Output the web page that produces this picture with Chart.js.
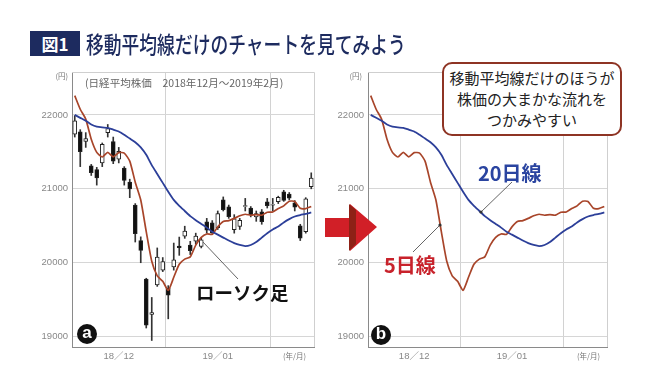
<!DOCTYPE html>
<html><head><meta charset="utf-8">
<script src="https://cdn.jsdelivr.net/npm/chart.js@4.4.1/dist/chart.umd.min.js"></script>
<style>
html,body{margin:0;padding:0;background:#fff;}
body{width:647px;height:384px;position:relative;overflow:hidden;font-family:"Noto Sans CJK JP","Noto Sans",sans-serif;}
.abs{position:absolute;white-space:nowrap;}
#w1{position:absolute;left:20px;top:60px;width:300px;height:320px;}
#w2{position:absolute;left:320px;top:60px;width:295px;height:320px;}
.fit{display:inline-block;transform-origin:0 50%;}
</style></head><body>
<div id="w1"><canvas id="c1" width="300" height="320"></canvas></div>
<div id="w2"><canvas id="c2" width="295" height="320"></canvas></div>

<svg class="abs" style="left:0;top:0" width="647" height="384">
  <line x1="203" y1="242" x2="238" y2="279" stroke="#555" stroke-width="0.9"/>
  <line x1="512" y1="182" x2="481" y2="212" stroke="#555" stroke-width="0.9"/>
  <circle cx="481" cy="212" r="1.6" fill="#333"/>
  <line x1="413" y1="252" x2="440" y2="225" stroke="#555" stroke-width="0.9"/>
  <circle cx="440" cy="225" r="1.6" fill="#333"/>
  <polygon points="325,218 350,218 350,204 377,227 350,251 350,237 325,237" fill="#d11f27"/>
  <polygon points="349,204 356,210 356,244 349,251" fill="#8e2116"/>
  <circle cx="87" cy="334" r="10" fill="#111"/>
  <circle cx="381" cy="335" r="10" fill="#111"/>
</svg>

<div class="abs" style="left:30px;top:31px;width:50px;height:25px;background:#1d2b5f;color:#fff;font-weight:bold;font-size:17px;line-height:25px;text-align:center;">図1</div>
<div class="abs" id="title" style="left:86px;top:28px;height:30px;line-height:30px;font-size:23px;color:#1d2b5f;font-weight:500;"><span class="fit" id="titleSpan">移動平均線だけのチャートを見てみよう</span></div>
<div class="abs" style="left:72px;top:76px;font-size:10.5px;color:#666;line-height:14px;"><span class="fit" id="subSpan">(日経平均株価　2018年12月～2019年2月)</span></div>
<div class="abs" style="left:50px;top:70px;width:18px;text-align:right;font-size:7.5px;color:#777;">(円)</div>
<div class="abs" style="left:344px;top:70px;width:18px;text-align:right;font-size:7.5px;color:#777;">(円)</div>
<div class="abs" style="left:283px;top:350px;font-size:7.5px;color:#777;">(年/月)</div>
<div class="abs" style="left:577px;top:350px;font-size:7.5px;color:#777;">(年/月)</div>
<div class="abs" style="left:77px;top:322px;width:20px;text-align:center;color:#fff;font-weight:bold;font-size:17px;line-height:22px;font-family:'Liberation Sans',sans-serif;">a</div>
<div class="abs" style="left:371px;top:323px;width:20px;text-align:center;color:#fff;font-weight:bold;font-size:17px;line-height:22px;font-family:'Liberation Sans',sans-serif;">b</div>
<div class="abs" style="left:196px;top:280px;font-size:18.5px;font-weight:bold;color:#111;line-height:24px;">ローソク足</div>
<div class="abs" style="left:478px;top:160px;font-size:20px;font-weight:bold;color:#2a44a0;line-height:26px;">20日線</div>
<div class="abs" style="left:384px;top:252px;font-size:20px;font-weight:bold;color:#c8222b;line-height:26px;">5日線</div>
<div class="abs" style="left:442px;top:62px;width:176px;height:67px;border:2px solid #8e3424;border-radius:10px;background:#fff;text-align:center;font-size:15px;line-height:21px;color:#222;padding-top:3px;">移動平均線だけのほうが<br>株価の大まかな流れを<br>つかみやすい</div>

<script>
// ---- data ----
const dates = [
 '2018-12-05','2018-12-06','2018-12-07','2018-12-10','2018-12-11','2018-12-12','2018-12-13','2018-12-14','2018-12-17','2018-12-18','2018-12-19','2018-12-20','2018-12-21','2018-12-25','2018-12-26','2018-12-27','2018-12-28',
 '2019-01-04','2019-01-07','2019-01-08','2019-01-09','2019-01-10','2019-01-11','2019-01-15','2019-01-16','2019-01-17','2019-01-18','2019-01-21','2019-01-22','2019-01-23','2019-01-24','2019-01-25','2019-01-28','2019-01-29','2019-01-30','2019-01-31',
 '2019-02-01','2019-02-04','2019-02-05','2019-02-06','2019-02-07','2019-02-08','2019-02-12','2019-02-13'];
const opens  = [21740,21770,21640,21310,21260,21350,21760,21640,21400,21280,21090,20780,20300,19780,19302,19700,19900,19655,19944,20224,20360,20240,20290,20220,20554,20540,20473,20850,20757,20446,20490,20760,20740,20620,20690,20825,20780,20825,20960,20930,20810,20500,20420,21030];
const highs  = [21990,21800,21760,21330,21290,21620,21870,21700,21560,21300,21130,20800,20350,19790,19530,20200,20070,19690,20266,20347,20494,20290,20400,20340,20600,20570,20700,20890,20780,20650,20600,20870,20760,20700,20720,20870,20870,20900,20980,20950,20840,20520,20880,21216];
const lows   = [21700,21300,21560,21180,21050,21300,21700,21340,21350,21050,20880,20280,20000,19117,18948,19680,19880,19241,19900,20100,20330,20110,20250,20200,20400,20380,20450,20700,20600,20400,20450,20700,20620,20560,20520,20740,20700,20800,20830,20850,20700,20300,20400,21000];
const closes = [21919,21501,21678,21219,21148,21602,21816,21374,21506,21115,21000,20392,20166,19155,19327,20077,20014,19561,20038,20204,20427,20163,20359,20310,20442,20402,20666,20719,20622,20593,20574,20773,20649,20664,20556,20773,20788,20883,20844,20874,20751,20333,20864,21144];
const ma5  = [22260,22076,21942,21671,21493,21430,21493,21432,21489,21483,21374,21089,20848,20420,20020,19823,19748,19627,19803,19979,20049,20079,20238,20342,20389,20384,20485,20557,20570,20600,20635,20656,20642,20651,20643,20683,20686,20733,20769,20832,20828,20737,20733,20760];
const ma20 = [22000,21960,21920,21870,21840,21830,21825,21800,21775,21730,21680,21630,21560,21460,21320,21200,21080,20960,20850,20770,20700,20630,20575,20525,20475,20420,20380,20340,20300,20265,20240,20225,20240,20280,20340,20400,20450,20490,20545,20590,20625,20645,20660,20680];
const yTicks = [19000, 20000, 21000, 22000];
const monthKeys   = ['2018-12', '2019-01'];
const monthLabels = ['18／12', '19／01'];
const yMin = 18860, yMax = 22580;

// derived: month label positions (middle trading day) and month boundaries
const labelAt = {};
monthKeys.forEach((k, j) => {
  const idx = dates.map((d, i) => d.startsWith(k) ? i : -1).filter(i => i >= 0);
  labelAt[idx[Math.floor(idx.length / 2)]] = monthLabels[j];
});
const boundaries = [];
for (let i = 1; i < dates.length; i++) if (dates[i].slice(0,7) !== dates[i-1].slice(0,7)) boundaries.push(i);

Chart.defaults.font.family = "'Liberation Sans','Noto Sans CJK JP',sans-serif";

const framePlugin = { id: 'frame', afterDraw(chart) {
  const { ctx, chartArea: a } = chart;
  ctx.save(); ctx.strokeStyle = '#cfcfcf'; ctx.lineWidth = 1;
  ctx.beginPath(); ctx.moveTo(a.left, a.top + 0.5); ctx.lineTo(Math.round(a.right) + 0.5, a.top + 0.5);
  ctx.lineTo(Math.round(a.right) + 0.5, a.bottom); ctx.stroke(); ctx.restore();
}};

function makeChart(id, withCandles, yWidth, padRight) {
  const datasets = [
    { type: 'line', data: ma20, borderColor: '#2c3f99', borderWidth: 1.8, pointRadius: 0, tension: 0.2, order: 0 },
    { type: 'line', data: ma5, borderColor: '#a8452a', borderWidth: 1.7, pointRadius: 0, tension: 0.2, order: 1 }
  ];
  if (withCandles) {
    datasets.push({ type: 'bar', data: opens.map((o, i) => [o, closes[i]]),
      backgroundColor: opens.map((o, i) => closes[i] >= o ? '#ffffff' : '#111111'),
      borderColor: '#222', borderWidth: 1, borderSkipped: false, barThickness: 4, grouped: false, order: 2 });
    datasets.push({ type: 'bar', data: lows.map((l, i) => [l, highs[i]]),
      backgroundColor: '#333', barThickness: 1, grouped: false, order: 3 });
  }
  return new Chart(document.getElementById(id), {
    type: 'bar',
    data: { labels: dates, datasets },
    options: {
      responsive: false, animation: false, devicePixelRatio: 1,
      layout: { padding: { left: 0, top: 12, right: padRight, bottom: 8 } },
      plugins: { legend: { display: false }, tooltip: { enabled: false } },
      scales: {
        x: { type: 'category', offset: true,
             grid: { offset: true, drawTicks: false, color: c => boundaries.includes(c.index) ? '#d2d2d2' : 'rgba(0,0,0,0)' },
             border: { color: '#8a8a8a' },
             ticks: { autoSkip: false, maxRotation: 0, padding: 4, color: '#888', font: { size: 9.5 },
                      callback: (v, i) => labelAt[i] || '' },
             afterFit: s => { s.height = 25; } },
        y: { min: yMin, max: yMax,
             afterBuildTicks: s => { s.ticks = yTicks.map(v => ({ value: v })); },
             grid: { drawTicks: false, color: '#d6d6d6' },
             border: { color: '#8a8a8a' },
             ticks: { padding: 4, color: '#888', font: { size: 9.5 }, callback: v => String(v) },
             afterFit: s => { s.width = yWidth; } }
      }
    },
    plugins: [framePlugin]
  });
}
makeChart('c1', true, 52, 6);
makeChart('c2', false, 48, 8);

function fit(id, w) { const el = document.getElementById(id); el.style.transform = 'scaleX(' + (w / el.offsetWidth) + ')'; }
fit('titleSpan', 320);
fit('subSpan', 198);
document.getElementById('subSpan').parentElement.style.left = '85px';
</script>
</body></html>
